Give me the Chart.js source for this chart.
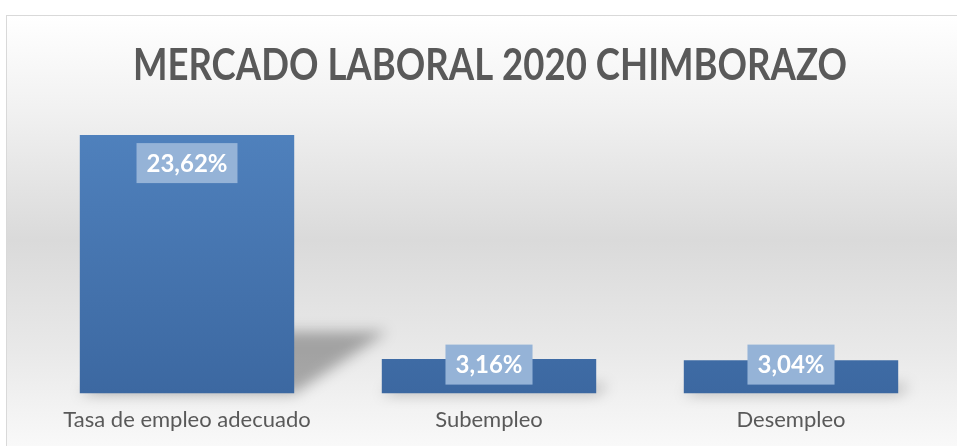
<!DOCTYPE html>
<html>
<head>
<meta charset="utf-8">
<script src="https://cdn.jsdelivr.net/npm/chart.js@4.4.1/dist/chart.umd.min.js"></script>
<style>
  html, body { margin: 0; padding: 0; background: #fff; }
  #frame {
    position: absolute; left: 6px; top: 15px;
    width: 951px; height: 431px;
    border-left: 1px solid #d9d9d9; border-top: 1px solid #d9d9d9;
    background: linear-gradient(to bottom, #ffffff 0%, #f1f1f1 22%, #dadada 52%, #e9e9e9 78%, #f9f9f9 100%);
  }
  #wrap { position: absolute; left: 0; top: 0; width: 950px; height: 430px; }
</style>
</head>
<body>
<div id="frame"><div id="wrap"><canvas id="chart"></canvas></div></div>
<script>
const categories = ['Tasa de empleo adecuado', 'Subempleo', 'Desempleo'];
const values = [23.62, 3.16, 3.04];
const yMax = 25;
const titleText = 'MERCADO LABORAL 2020 CHIMBORAZO';

const TEXT = '#595959';

const fmt = v => v.toFixed(2).replace('.', ',') + '%';

// perspective shadow behind the bars
const shadowPlugin = {
  id: 'barShadow',
  beforeDatasetsDraw(chart) {
    const { ctx } = chart;
    const meta = chart.getDatasetMeta(0);
    ctx.save();
    ctx.filter = 'blur(7px)';
    ctx.fillStyle = 'rgba(0,0,0,0.3)';
    meta.data.forEach(bar => {
      const h = bar.base - bar.y;
      const left = bar.x - bar.width / 2;
      const right = bar.x + bar.width / 2;
      const dx = h * 0.36, dy = h * 0.24;
      ctx.beginPath();
      ctx.moveTo(left, bar.base);
      ctx.lineTo(left + dx, bar.base - dy);
      ctx.lineTo(right + dx, bar.base - dy);
      ctx.lineTo(right, bar.base);
      ctx.closePath();
      ctx.fill();
    });
    ctx.restore();
  }
};

// value labels in light boxes
const labelPlugin = {
  id: 'valueLabels',
  afterDatasetsDraw(chart) {
    const { ctx } = chart;
    const meta = chart.getDatasetMeta(0);
    ctx.save();
    ctx.font = 'bold 24px Lato, sans-serif';
    ctx.textAlign = 'center';
    ctx.textBaseline = 'middle';
    meta.data.forEach((bar, i) => {
      const txt = fmt(values[i]);
      const w = ctx.measureText(txt).width + 20;
      const h = 40;
      const cy = Math.min(bar.y + 28, bar.base - 29);
      ctx.fillStyle = '#95b3d7';
      ctx.fillRect(bar.x - w / 2, cy - h / 2, w, h);
      ctx.fillStyle = '#ffffff';
      ctx.fillText(txt, bar.x, cy + 1);
    });
    ctx.restore();
  }
};

// title, squeezed a little to get the narrow look of the original face
const titlePlugin = {
  id: 'narrowTitle',
  afterDraw(chart) {
    const { ctx } = chart;
    const cx = (chart.chartArea.left + chart.chartArea.right) / 2 + 1;
    ctx.save();
    ctx.font = 'bold 43px Lato, sans-serif';
    ctx.fillStyle = TEXT;
    ctx.textAlign = 'center';
    ctx.textBaseline = 'alphabetic';
    ctx.translate(cx, 64);
    ctx.scale(0.85, 1);
    ctx.fillText(titleText, 0, 0);
    ctx.restore();
  }
};

const ctx = document.getElementById('chart');
new Chart(ctx, {
  type: 'bar',
  data: {
    labels: categories,
    datasets: [{
      data: values,
      backgroundColor: c => {
        const area = c.chart.chartArea;
        if (!area) return '#4a7ab5';
        const g = c.chart.ctx.createLinearGradient(0, area.top, 0, area.bottom);
        g.addColorStop(0, '#5082be');
        g.addColorStop(1, '#3c68a1');
        return g;
      },
      borderWidth: 0,
      categoryPercentage: 1,
      barPercentage: 0.71
    }]
  },
  options: {
    responsive: true,
    maintainAspectRatio: false,
    animation: false,
    layout: { padding: { left: 29, right: 15, top: 104, bottom: 0 } },
    scales: {
      y: { display: false, min: 0, max: yMax },
      x: {
        grid: { display: false, drawTicks: false },
        border: { display: false },
        ticks: { color: TEXT, font: { family: 'Lato, sans-serif', size: 22 }, padding: 13 }
      }
    },
    plugins: {
      legend: { display: false },
      tooltip: { enabled: false },
      title: { display: false }
    }
  },
  plugins: [shadowPlugin, labelPlugin, titlePlugin]
});
</script>
</body>
</html>
